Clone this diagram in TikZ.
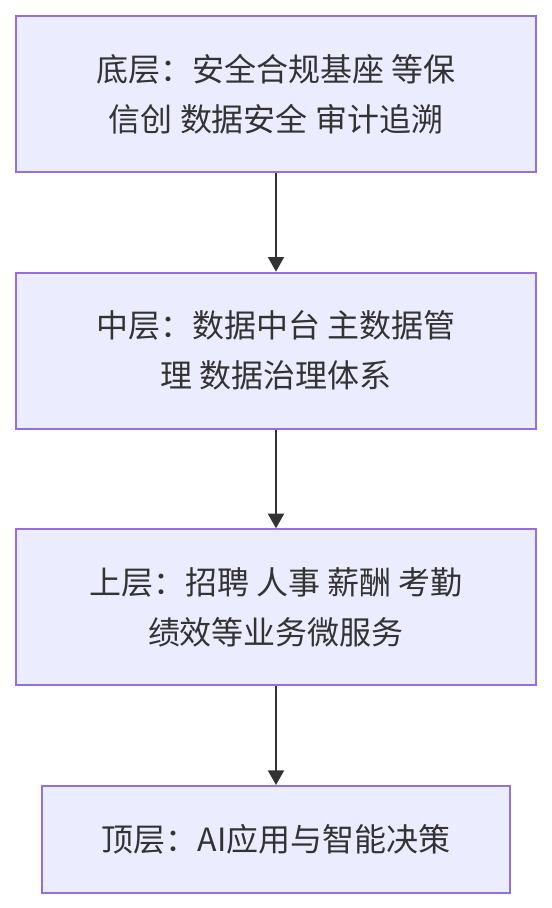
\documentclass[tikz,border=0pt]{standalone}
\usepackage{fontspec}
\newfontfamily\cjk{Noto Sans CJK SC}
\usetikzlibrary{positioning,arrows.meta}
\definecolor{layerfill}{HTML}{ECECFF}
\definecolor{layerline}{HTML}{9370DB}
\definecolor{inkgray}{HTML}{333333}

\begin{document}
\begin{tikzpicture}[x=0.75pt, y=-0.75pt, node distance=74pt, every node/.style={font=\cjk\fontsize{24}{37.5}\selectfont}]
\tikzset{
  layer/.style={draw=layerline, fill=layerfill, line width=1.5pt, align=center, text=inkgray, minimum width=390pt, minimum height=117pt},
  arrow/.style={-{Triangle[width=12pt,length=11pt]}, line width=1.5pt, draw=inkgray}
}
\useasboundingbox (0,0) rectangle (552,908);

% Nodes
\node[layer] (base) at (276,94) {底层：安全合规基座 等保\\信创 数据安全 审计追溯};
\node[layer, below=of base] (mid) {中层：数据中台 主数据管\\理 数据治理体系};
\node[layer, below=of mid] (upper) {上层：招聘 人事 薪酬 考勤\\绩效等业务微服务};
\node[layer, below=of upper, minimum width=351pt, minimum height=80pt] (top) {顶层：AI应用与智能决策};

% Arrows
\draw[arrow] (base) -- (mid);
\draw[arrow] (mid) -- (upper);
\draw[arrow] (upper) -- (top);
\end{tikzpicture}
\end{document}
